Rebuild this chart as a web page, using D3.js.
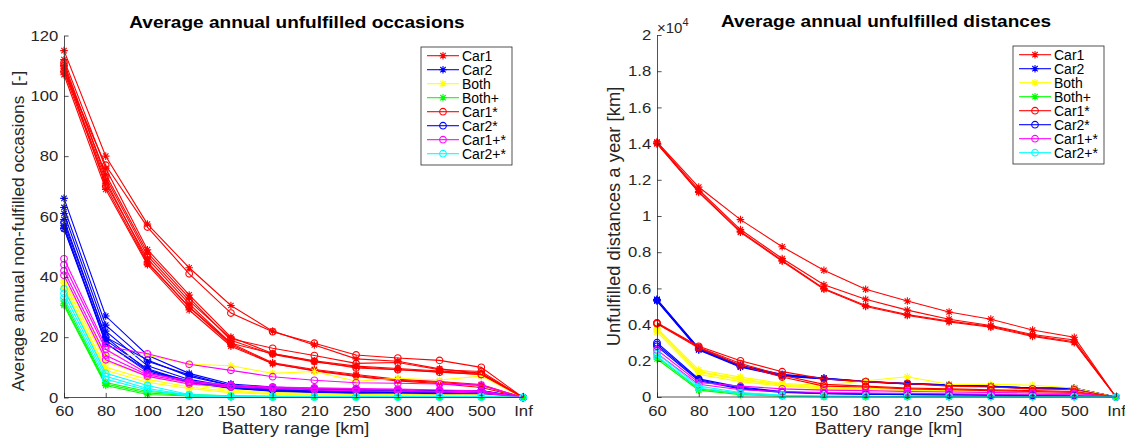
<!DOCTYPE html>
<html>
<head>
<meta charset="utf-8">
<script src="https://cdn.jsdelivr.net/npm/d3@7"></script>
<style>
  body { margin: 0; background: #fff; }
  svg { display: block; }
  text { font-family: "Liberation Sans", Arial, Helvetica, sans-serif; white-space: pre; }
</style>
</head>
<body>
<svg id="fig" width="1125" height="438"></svg>
<script>
// Battery ranges on the x axis
const categories = ["60", "80", "100", "120", "150", "180", "210", "250", "300", "400", "500", "Inf"];

const seriesNames = ["Car1", "Car2", "Both", "Both+", "Car1*", "Car2*", "Car1+*", "Car2+*"];
const seriesColors = ["#ff0000", "#0000ff", "#ffff00", "#00ff00", "#ff0000", "#0000ff", "#ff00ff", "#00ffff"];
const seriesMarkers = ["star", "star", "star", "star", "circle", "circle", "circle", "circle"];

// ---- Average annual unfulfilled occasions (one row per household run) ----
const occCar1 = [
  [115, 80, 57.5, 43, 30.5, 22, 17.4, 12.8, 12, 9.5, 8, 0],
  [112, 76, 49, 34, 20, 14.6, 12.2, 10.4, 9.6, 8.8, 8, 0],
  [110, 74, 48, 33, 19, 14.3, 11.8, 10.1, 9.3, 8.5, 7.6, 0],
  [108, 71, 46, 31, 18, 11.5, 9.3, 7.6, 6, 5.3, 4.3, 0],
  [107, 69, 44, 29, 17, 11.2, 9, 7.3, 5.7, 5, 4, 0],
  [109, 72, 45, 30, 17.5, 11.3, 8.8, 7, 5.5, 4.6, 3.3, 0]
];
const occCar2 = [
  [66, 27, 14, 8, 4.5, 3.5, 3, 2.6, 2.5, 2.3, 2.3, 0],
  [63, 24, 12, 7.5, 4, 3, 2.6, 2.3, 2.1, 2.1, 2.1, 0],
  [61, 22, 10.5, 6, 3.6, 2.6, 2.2, 2, 1.9, 1.9, 1.9, 0],
  [59, 20, 9, 5.5, 3.2, 2.5, 2, 1.8, 1.6, 1.6, 1.6, 0],
  [57, 18, 8.5, 5, 3, 2.2, 1.8, 1.6, 1.5, 1.3, 1.3, 0],
  [56, 19, 9.5, 5.2, 3.3, 2, 1.6, 1.3, 1.1, 1, 1, 0]
];
const occBoth = [
  [39, 14, 14, 11, 10.5, 8, 8.6, 5.4, 6.4, 5.8, 7.1, 0],
  [38, 12, 7, 4.5, 2.5, 1.6, 1.3, 1.1, 1, 0.9, 0.9, 0],
  [37, 10, 6, 3.5, 2, 1.3, 1.1, 0.9, 0.8, 0.7, 0.7, 0],
  [36, 9, 5, 3, 1.6, 1.1, 0.9, 0.7, 0.6, 0.6, 0.6, 0]
];
const occBothPlus = [
  [32, 5, 2, 1, 0.6, 0.4, 0.3, 0.3, 0.2, 0.2, 0.2, 0],
  [31, 4.5, 1.5, 0.7, 0.3, 0.2, 0.2, 0.1, 0.1, 0.1, 0.1, 0],
  [30.5, 4, 1, 0.5, 0.2, 0.1, 0.1, 0.1, 0.1, 0.1, 0.1, 0]
];
const occCar1Star = [
  [108, 77, 56.5, 41, 28, 21.8, 18, 14.1, 13.1, 12.3, 10, 0],
  [111, 73, 47, 32, 19.5, 16.3, 13.9, 11.3, 11.6, 9.2, 8.6, 0],
  [110, 70, 44.5, 30, 18, 14.5, 12, 9.8, 9.2, 8.4, 7.6, 0]
];
const occCar2Star = [
  [58, 20, 12.4, 7, 4, 3, 2.8, 2.5, 2.5, 2.3, 2.3, 0],
  [56, 18, 9, 5, 3.5, 2.5, 2.2, 2, 2, 1.8, 1.8, 0]
];
const occCar1PlusStar = [
  [46, 17, 14.5, 11, 9, 6.9, 5.7, 4.9, 4.7, 4.5, 4.1, 0],
  [44, 16, 8, 5.5, 4, 3.5, 3.2, 3, 2.8, 2.5, 2.2, 0],
  [42, 14, 7.5, 5, 4, 3.2, 3, 2.8, 2.5, 2, 2, 0],
  [40.5, 12.5, 7, 4.5, 3.5, 3, 2.5, 2.2, 2, 1.8, 1.5, 0]
];
const occCar2PlusStar = [
  [36, 8, 4, 1, 0.5, 0.4, 0.3, 0.3, 0.3, 0.3, 0.3, 0],
  [34.5, 7, 3, 0.8, 0.3, 0.2, 0.2, 0.2, 0.2, 0.2, 0.2, 0],
  [33, 6, 2.5, 0.5, 0.2, 0.1, 0.1, 0.1, 0.1, 0.1, 0.1, 0]
];

// ---- Average annual unfulfilled distances [km] ----
const distCar1 = [
  [14100, 11600, 9800, 8300, 7000, 5950, 5300, 4700, 4300, 3700, 3300, 0],
  [14050, 11450, 9250, 7650, 6200, 5400, 4800, 4300, 3950, 3450, 3150, 0],
  [14000, 11300, 9100, 7500, 5950, 5000, 4500, 4150, 3850, 3350, 3000, 0],
  [14000, 11350, 9150, 7550, 6000, 5050, 4550, 4200, 3900, 3400, 3050, 0]
];
const distCar2 = [
  [5400, 2700, 1750, 1250, 1050, 870, 750, 680, 600, 500, 500, 0],
  [5300, 2600, 1650, 1150, 1000, 830, 720, 650, 570, 470, 470, 0],
  [5350, 2650, 1700, 1200, 1020, 850, 730, 660, 590, 490, 480, 0],
  [5380, 2680, 1720, 1220, 1030, 860, 740, 670, 595, 495, 490, 0],
  [5320, 2620, 1680, 1180, 1010, 840, 725, 655, 580, 480, 475, 0]
];
const distBoth = [
  [3800, 1500, 1100, 750, 650, 900, 1120, 700, 700, 650, 500, 0],
  [3750, 1400, 1000, 700, 550, 480, 420, 380, 350, 320, 280, 0],
  [3700, 1350, 950, 650, 500, 450, 400, 350, 300, 300, 250, 0],
  [3600, 1250, 850, 600, 450, 400, 350, 300, 250, 250, 200, 0]
];
const distBothPlus = [
  [2200, 450, 200, 80, 40, 30, 20, 20, 20, 10, 10, 0],
  [2100, 380, 130, 40, 20, 10, 10, 10, 10, 5, 5, 0]
];
const distCar1Star = [
  [4100, 2800, 2000, 1400, 1000, 850, 750, 600, 550, 450, 400, 0],
  [4080, 2750, 1850, 1200, 700, 600, 500, 450, 400, 350, 300, 0],
  [4050, 2700, 1750, 1100, 600, 550, 450, 400, 350, 300, 250, 0]
];
const distCar2Star = [
  [3000, 1000, 550, 300, 200, 180, 150, 150, 130, 100, 100, 0],
  [2900, 950, 500, 280, 190, 160, 140, 130, 115, 90, 90, 0],
  [2800, 900, 450, 250, 180, 150, 130, 120, 100, 80, 80, 0]
];
const distCar1PlusStar = [
  [2600, 800, 600, 450, 380, 350, 300, 280, 250, 220, 200, 0],
  [2400, 700, 400, 300, 250, 220, 200, 180, 150, 150, 120, 0]
];
const distCar2PlusStar = [
  [2400, 600, 250, 100, 50, 40, 30, 30, 30, 20, 20, 0],
  [2250, 500, 180, 60, 30, 20, 20, 20, 20, 10, 10, 0]
];

// Tick values
const occTicks = [0, 20, 40, 60, 80, 100, 120];
const distTicks = [0, 2000, 4000, 6000, 8000, 10000, 12000, 14000, 16000, 18000, 20000];

const AXIS = "#262626";
const LW = 1.1;
const svg = d3.select("#fig");

function markerPath(kind) {
  if (kind === "star") {
    const a = 3.8, b = 2.7;
    return `M${-a},0H${a}M0,${-a}V${a}M${-b},${-b}L${b},${b}M${-b},${b}L${b},${-b}`;
  }
  return d3.symbol(d3.symbolCircle, Math.PI * 3.3 * 3.3)();
}

function drawPanel(cfg) {
  const g = svg.append("g");
  const x = d3.scalePoint().domain(categories).range(cfg.xRange).padding(0);
  const y = d3.scaleLinear().domain(cfg.yDomain).range(cfg.yRange);

  // data lines, drawn in series order so later series sit on top
  const line = d3.line().x((d, i) => x(categories[i])).y(d => y(d));
  cfg.series.forEach((runs, si) => {
    const color = seriesColors[si];
    runs.forEach(run => {
      const lg = g.append("g");
      lg.append("path")
        .attr("d", line(run))
        .attr("fill", "none")
        .attr("stroke", color)
        .attr("stroke-width", LW);
      lg.selectAll("path.m")
        .data(run)
        .join("path")
        .attr("class", "m")
        .attr("transform", (d, i) => `translate(${x(categories[i])},${y(d)})`)
        .attr("d", markerPath(seriesMarkers[si]))
        .attr("fill", "none")
        .attr("stroke", color)
        .attr("stroke-width", LW);
    });
  });

  // axes: left and bottom only, ticks pointing inward
  const xAxis = g.append("g")
    .attr("transform", `translate(0,${cfg.yRange[0]})`)
    .call(d3.axisBottom(x).tickSizeInner(-4.6).tickSizeOuter(0).tickPadding(8.5));
  const yAxis = g.append("g")
    .attr("transform", `translate(${cfg.xRange[0]},0)`)
    .call(d3.axisLeft(y).tickValues(cfg.yTicks).tickFormat(cfg.yFmt)
      .tickSizeInner(-4.6).tickSizeOuter(0).tickPadding(5));
  [xAxis, yAxis].forEach(ax => {
    ax.select(".domain").attr("stroke", AXIS).attr("stroke-width", 0.8);
    ax.selectAll(".tick line").attr("stroke", AXIS).attr("stroke-width", 0.8);
    ax.selectAll(".tick text")
      .attr("fill", AXIS)
      .style("font-size", "14.5px")
      .attr("transform", "scale(1.15,1)");
    ax.attr("font-family", null).attr("font-size", null);
  });
  // the x axis line spans the full width
  xAxis.select(".domain").attr("d", `M${cfg.xRange[0]},0H${cfg.xRange[1]}`);

  // title
  g.append("text")
    .attr("x", cfg.titleX / 1.12).attr("y", cfg.titleY)
    .attr("transform", "scale(1.12,1)")
    .attr("text-anchor", "middle")
    .style("font-size", "17px").style("font-weight", "bold")
    .attr("fill", "#000")
    .text(cfg.title);

  // x label
  const xMid = (cfg.xRange[0] + cfg.xRange[1]) / 2;
  g.append("text")
    .attr("x", (xMid + 2) / 1.13).attr("y", 434)
    .attr("transform", "scale(1.13,1)")
    .attr("text-anchor", "middle")
    .style("font-size", "16px")
    .attr("fill", AXIS)
    .text("Battery range [km]");

  // y label
  g.append("text")
    .attr("transform", `translate(${cfg.ylabelX},${cfg.ylabelY}) rotate(-90)`)
    .attr("text-anchor", "middle")
    .style("font-size", cfg.ylabelSize + "px")
    .attr("fill", AXIS)
    .text(cfg.ylabel);

  // legend
  const L = cfg.legend;
  const lg = g.append("g").attr("transform", `translate(${L.x},${L.y})`);
  lg.append("rect")
    .attr("width", L.w).attr("height", L.h)
    .attr("fill", "#fff").attr("stroke", AXIS).attr("stroke-width", 0.8);
  seriesNames.forEach((name, i) => {
    const cy = 8.7 + i * 14;
    lg.append("line")
      .attr("x1", 6).attr("x2", 38).attr("y1", cy).attr("y2", cy)
      .attr("stroke", seriesColors[i]).attr("stroke-width", LW);
    lg.append("path")
      .attr("transform", `translate(22,${cy})`)
      .attr("d", markerPath(seriesMarkers[i]))
      .attr("fill", "none").attr("stroke", seriesColors[i]).attr("stroke-width", LW);
    lg.append("text")
      .attr("x", 41).attr("y", cy + 5)
      .style("font-size", "14px")
      .attr("fill", "#000")
      .text(name);
  });

  return g;
}

drawPanel({
  xRange: [64, 523],
  yDomain: [0, 120],
  yRange: [397.5, 35.5],
  yTicks: occTicks,
  yFmt: d3.format("d"),
  series: [occCar1, occCar2, occBoth, occBothPlus, occCar1Star, occCar2Star, occCar1PlusStar, occCar2PlusStar],
  title: "Average annual unfulfilled occasions",
  titleX: 297, titleY: 28,
  ylabel: "Average annual non-fulfilled occasions  [-]",
  ylabelX: 24, ylabelY: 231, ylabelSize: 17.3,
  legend: { x: 421, y: 47, w: 91, h: 118 }
});

const right = drawPanel({
  xRange: [657, 1116],
  yDomain: [0, 20000],
  yRange: [397, 35],
  yTicks: distTicks,
  yFmt: v => String(+(v / 10000).toFixed(1)),
  series: [distCar1, distCar2, distBoth, distBothPlus, distCar1Star, distCar2Star, distCar1PlusStar, distCar2PlusStar],
  title: "Average annual unfulfilled distances",
  titleX: 886, titleY: 27,
  ylabel: "Unfulfilled distances a year [km]",
  ylabelX: 620, ylabelY: 216.5, ylabelSize: 18.4,
  legend: { x: 1013, y: 46, w: 91, h: 118 }
});

// exponent marker of the distance axis
const expo = right.append("text")
  .attr("x", 657).attr("y", 33)
  .style("font-size", "15px")
  .attr("fill", AXIS);
expo.append("tspan").text("\u00d710");
expo.append("tspan").attr("dy", -7).style("font-size", "11px").text("4");
</script>
</body>
</html>
